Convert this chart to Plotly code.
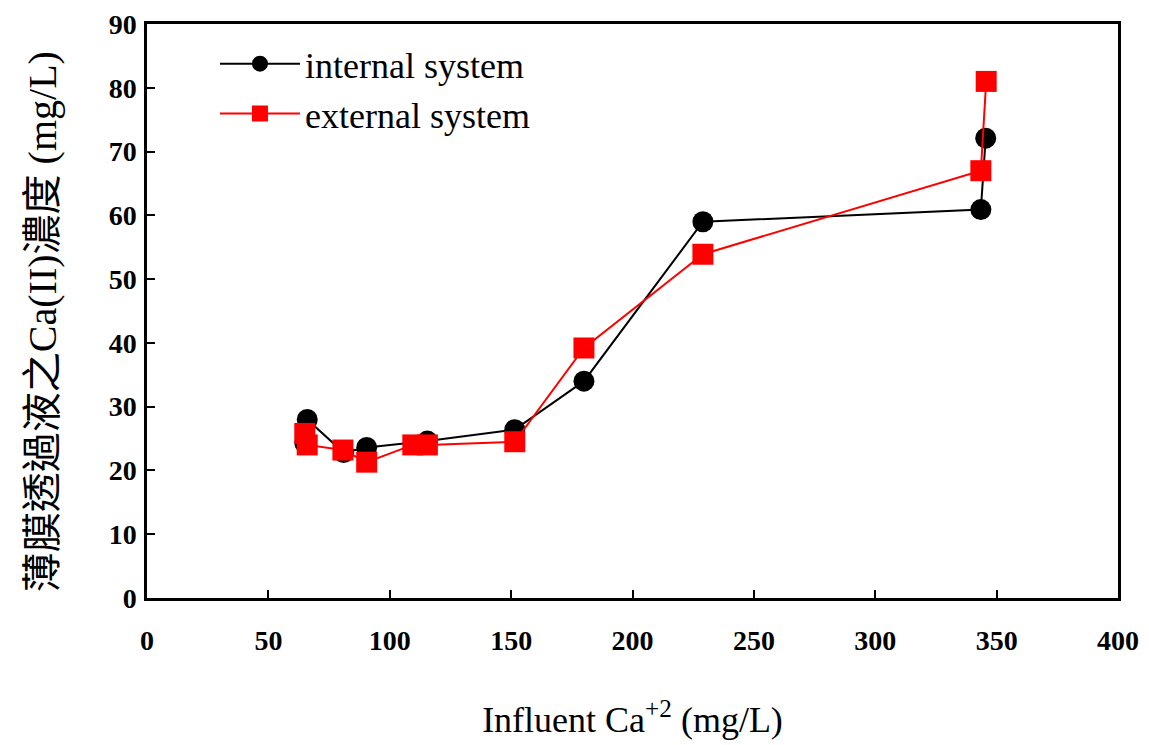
import plotly.graph_objects as go

# Influent Ca concentration (mg/L) vs permeate Ca(II) concentration (mg/L)
internal_x = [65, 66, 81, 90.5, 115.5, 151.5, 180, 229, 343.5, 345.5]
internal_y = [24.3, 28.0, 22.8, 23.6, 24.6, 26.4, 34.0, 59.0, 60.9, 72.1]

external_x = [65, 66, 80.7, 90.5, 109.5, 115.5, 151.5, 180, 229, 343.5, 345.7]
external_y = [25.8, 24.0, 23.2, 21.3, 24.0, 24.0, 24.5, 39.2, 53.9, 67.0, 81.0]

x_ticks = [0, 50, 100, 150, 200, 250, 300, 350, 400]
y_ticks = [0, 10, 20, 30, 40, 50, 60, 70, 80, 90]

serif = "Liberation Serif, Times New Roman, serif"
title_font = "Liberation Serif, Noto Sans CJK TC, serif"

fig = go.Figure()
fig.add_trace(go.Scatter(
    x=internal_x, y=internal_y, mode="lines+markers", name="internal system",
    line=dict(color="black", width=2),
    marker=dict(symbol="circle", size=21, color="black"),
))
fig.add_trace(go.Scatter(
    x=external_x, y=external_y, mode="lines+markers", name="external system",
    line=dict(color="#ff0000", width=2),
    marker=dict(symbol="square", size=21, color="#ff0000"),
))

fig.update_layout(
    width=1149, height=745,
    margin=dict(l=147, r=31, t=24, b=147),
    paper_bgcolor="white", plot_bgcolor="white",
    showlegend=True,
    legend=dict(
        x=0.070, y=0.983, xanchor="left", yanchor="top",
        bgcolor="rgba(0,0,0,0)", itemwidth=80,
        font=dict(family=serif, size=36, color="black"),
        tracegroupgap=0,
    ),
    font=dict(family=serif, color="black"),
)

fig.update_xaxes(
    range=[0, 400], tickvals=x_ticks, ticktext=[str(v) for v in x_ticks],
    showgrid=False, zeroline=False,
    showline=True, linecolor="black", linewidth=2.5, mirror=True,
    ticks="inside", ticklen=8, tickwidth=1.5, tickcolor="black",
    ticklabelstandoff=16,
    tickfont=dict(family=serif, size=28, color="black", weight="bold"),
    title=dict(text="Influent Ca<sup>+2</sup> (mg/L)",
               font=dict(family=serif, size=36, color="black"), standoff=52),
    automargin=False,
)
fig.update_yaxes(
    range=[0, 90], tickvals=y_ticks, ticktext=[str(v) for v in y_ticks],
    showgrid=False, zeroline=False,
    showline=True, linecolor="black", linewidth=2.5, mirror=True,
    ticks="inside", ticklen=8, tickwidth=1.5, tickcolor="black",
    ticklabelstandoff=2,
    tickfont=dict(family=serif, size=28, color="black", weight="bold"),
    automargin=False,
)

# Vertical y-axis title placed as a rotated annotation
fig.add_annotation(
    text="薄膜透過液之Ca(II)濃度 (mg/L)",
    xref="paper", yref="paper", x=-0.108, y=0.5,
    xanchor="center", yanchor="middle", textangle=-90,
    yshift=-11, showarrow=False,
    font=dict(family=title_font, size=40, color="black"),
)

fig.write_html("out.html")
